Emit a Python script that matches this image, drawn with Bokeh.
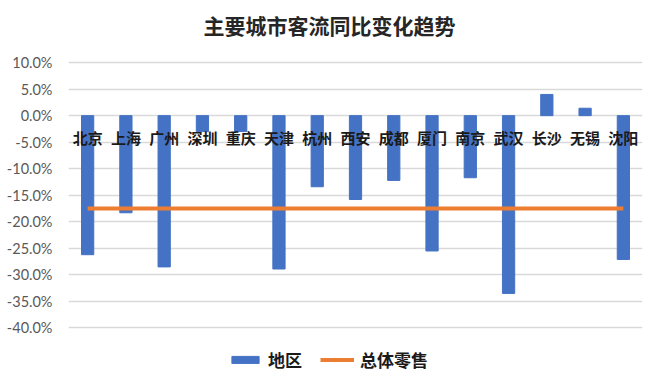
from bokeh.plotting import figure
from bokeh.models import FactorRange, Range1d, FixedTicker, PrintfTickFormatter, Legend, LegendItem, Label
from bokeh.core.properties import value
from bokeh.embed import file_html
from bokeh.resources import INLINE

title = "主要城市客流同比变化趋势"
cities = ["北京", "上海", "广州", "深圳", "重庆", "天津", "杭州", "西安", "成都", "厦门",
          "南京", "武汉", "长沙", "无锡", "沈阳"]
region = [-26.2, -18.3, -28.5, -3.0, -3.0, -28.9, -13.4, -15.8, -12.2, -25.5,
          -11.7, -33.5, 4.0, 1.4, -27.1]
overall_retail = [-17.5] * 15
y_ticks = [-40, -35, -30, -25, -20, -15, -10, -5, 0, 5, 10]

CJK = "Noto Sans CJK SC"

p = figure(width=644, height=372, x_range=FactorRange(*cities, range_padding=0),
           y_range=Range1d(-48.4, 21.7), output_backend="svg", toolbar_location=None,
           min_border_left=68, min_border_right=2, min_border_top=0, min_border_bottom=0)
p.outline_line_color = None
p.background_fill_color = "white"

p.add_layout(Label(x=261, y=348, x_units="screen", y_units="screen", text=title,
                   text_align="center", text_baseline="middle", text_font=CJK,
                   text_font_size="21px", text_font_style="bold", text_color="#262626"))

bars = p.vbar(x=cities, top=region, bottom=0, width=0.32, color="#4472C4")
line = p.line(x=cities, y=overall_retail, line_color="#ED7D31", line_width=4)

p.text(x=cities, y=[0] * len(cities), text=cities, y_offset=22,
       text_align="center", text_baseline="middle", text_font=value(CJK),
       text_font_size="15px", text_font_style="bold", text_color="#1a1a1a")

p.xaxis.visible = False
p.xgrid.grid_line_color = None
p.ygrid.grid_line_color = "#D9D9D9"
p.ygrid.grid_line_width = 1.5
p.yaxis.ticker = FixedTicker(ticks=y_ticks)
p.yaxis.formatter = PrintfTickFormatter(format="%.1f%%")
p.yaxis.axis_line_color = None
p.yaxis.major_tick_line_color = None
p.yaxis.minor_tick_line_color = None
p.yaxis.major_label_text_font = "Lato"
p.yaxis.major_label_text_font_size = "14.5px"
p.yaxis.major_label_text_color = "#595959"
p.yaxis.major_label_standoff = 10

legend = Legend(items=[LegendItem(label="地区", renderers=[bars]),
                       LegendItem(label="总体零售", renderers=[line])],
                orientation="horizontal", location=(160, 0),
                label_text_font=CJK, label_text_font_size="17px", label_text_font_style="bold",
                label_text_color="#1a1a1a", glyph_width=34, glyph_height=9,
                spacing=18, border_line_color=None, background_fill_alpha=0,
                padding=2, label_standoff=6)
p.add_layout(legend)

open("out.html", "w").write(file_html(p, INLINE))
